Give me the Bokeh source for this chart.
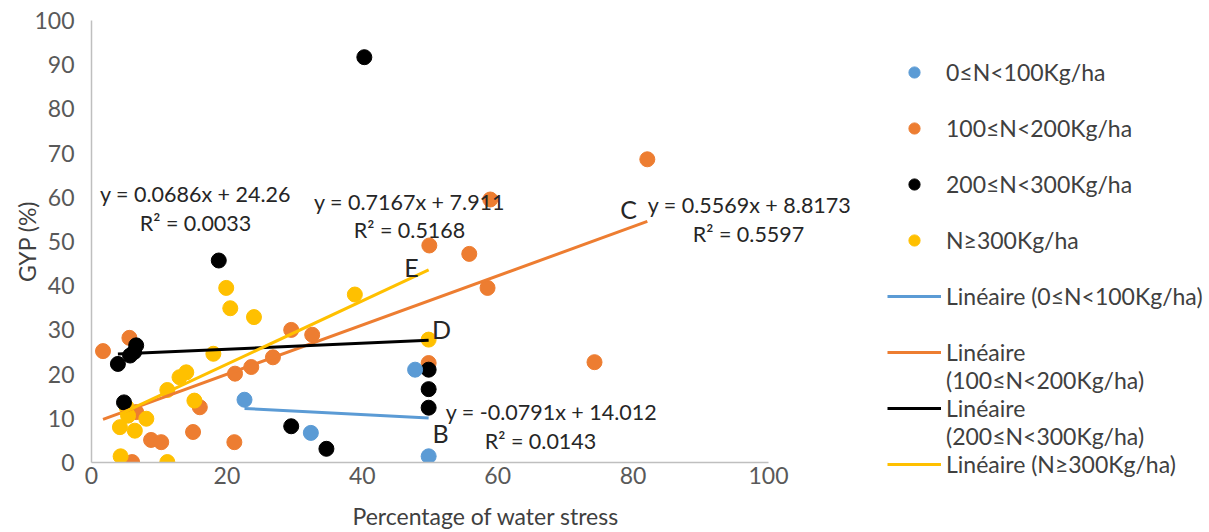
from bokeh.plotting import figure
from bokeh.models import (Legend, LegendItem, Label, FixedTicker, Range1d,
                          CDSView, IndexFilter)
from bokeh.embed import file_html
from bokeh.resources import INLINE

FONT = "Lato"

# ---- data ----
blue_x = [22.6, 32.4, 47.8, 49.8]
blue_y = [14.2, 6.7, 21.0, 1.4]

orange_x = [1.7, 5.6, 6.6, 16.0, 15.0, 8.8, 10.3, 6.0, 21.1, 21.2, 23.6, 26.8,
            29.5, 32.6, 49.8, 49.9, 55.8, 58.9, 58.5, 74.3, 82.1]
orange_y = [25.2, 28.2, 11.4, 12.5, 6.9, 5.1, 4.6, 0.1, 4.6, 20.1, 21.6, 23.8,
            30.0, 28.9, 22.5, 49.1, 47.2, 59.5, 39.5, 22.7, 68.6]

black_x = [3.9, 5.7, 6.3, 6.6, 4.8, 18.8, 29.5, 34.7, 40.3, 49.8, 49.8, 49.8]
black_y = [22.3, 24.2, 25.0, 26.5, 13.6, 45.7, 8.2, 3.1, 91.7, 21.0, 16.6, 12.4]

yellow_x = [19.9, 20.5, 24.0, 18.0, 14.0, 13.0, 11.2, 15.2, 8.1, 5.2, 5.4, 4.2,
            6.4, 4.3, 11.2, 38.9, 49.8]
yellow_y = [39.5, 34.9, 32.9, 24.6, 20.4, 19.3, 16.4, 14.0, 9.9, 12.5, 10.6, 8.0,
            7.2, 1.4, 0.1, 38.0, 27.8]

series_names = ["0≤N<100Kg/ha", "100≤N<200Kg/ha", "200≤N<300Kg/ha", "N≥300Kg/ha"]
colors = ["#5B9BD5", "#ED7D31", "#000000", "#FFC000"]

# trend-line coefficients (from the chart's equations) and x extents
slopes = [-0.0791, 0.5569, 0.0686, 0.7167]
intercepts = [14.012, 8.8173, 24.26, 7.911]
fit_x0 = [22.6, 1.7, 3.9, 4.2]
fit_x1 = [49.8, 82.1, 49.8, 49.8]

x_ticks = [0, 20, 40, 60, 80, 100]
y_ticks = [0, 10, 20, 30, 40, 50, 60, 70, 80, 90, 100]

H = 532
RIGHT_EDGE = 880
LEFT, TOP, BOTTOM = 91, 20, 70
FRAME_W = RIGHT_EDGE - LEFT
FRAME_H = H - TOP - BOTTOM
px_per_x = 677.0 / 100.0
px_per_y = FRAME_H / 100.0

p = figure(frame_width=FRAME_W, frame_height=FRAME_H,
           output_backend="svg", toolbar_location=None,
           x_range=Range1d(0, FRAME_W / px_per_x), y_range=Range1d(0, 100),
           min_border_left=LEFT, min_border_right=0, min_border_top=TOP,
           min_border_bottom=BOTTOM)
p.outline_line_color = None
p.xgrid.grid_line_color = None
p.ygrid.grid_line_color = None
p.border_fill_color = "white"

for ax in (p.xaxis[0], p.yaxis[0]):
    ax.axis_line_color = "#BFBFBF"
    ax.axis_line_width = 1.5
    ax.major_tick_line_color = None
    ax.minor_tick_line_color = None
    ax.major_tick_out = 0
    ax.major_tick_in = 0
    ax.major_label_text_font = FONT
    ax.major_label_text_font_size = "23px"
    ax.major_label_text_color = "#595959"
    ax.axis_label_text_font = FONT
    ax.axis_label_text_font_size = "23px"
    ax.axis_label_text_font_style = "normal"
    ax.axis_label_text_color = "#404040"
    ax.bounds = (0, 100)

p.xaxis[0].ticker = FixedTicker(ticks=x_ticks)
p.yaxis[0].ticker = FixedTicker(ticks=y_ticks)
p.xaxis[0].axis_label = "Percentage of water stress"
p.yaxis[0].axis_label = "GYP (%)"
p.xaxis[0].major_label_standoff = 4
p.xaxis[0].axis_label_standoff = 15
p.yaxis[0].major_label_standoff = 17
p.yaxis[0].axis_label_standoff = -10

xs_all = [blue_x, orange_x, black_x, yellow_x]
ys_all = [blue_y, orange_y, black_y, yellow_y]

pts = {}
for i in [1, 3, 2, 0]:
    pts[i] = p.scatter(xs_all[i], ys_all[i], size=15, fill_color=colors[i],
                       line_color=colors[i], marker="circle")

lines = []
for i in range(4):
    xx = [fit_x0[i], fit_x1[i]]
    yy = [slopes[i] * v + intercepts[i] for v in xx]
    lines.append(p.line(xx, yy, line_color=colors[i], line_width=3))

# renderer that draws nothing: used for legend rows that only carry text
blank = p.line([fit_x0[0], fit_x1[0]], [0, 0], line_alpha=0,
               view=CDSView(filter=IndexFilter(indices=[])))


def dx(px):
    return (px - LEFT) / px_per_x


def dy(py):
    return (H - BOTTOM - py) / px_per_y


eq_labels = [
    ("y = 0.0686x + 24.26", 195, 193, "21.5px"),
    ("R² = 0.0033", 195, 222, "21.5px"),
    ("y = 0.7167x + 7.911", 409, 201, "21.5px"),
    ("R² = 0.5168", 409, 229, "21.5px"),
    ("y = 0.5569x + 8.8173", 749, 204, "21.5px"),
    ("R² = 0.5597", 748, 233, "21.5px"),
    ("y = -0.0791x + 14.012", 551, 411, "21.5px"),
    ("R² = 0.0143", 540, 440, "21.5px"),
    ("C", 628, 208, "25px"),
    ("E", 411, 266, "25px"),
    ("D", 441, 328, "25px"),
    ("B", 440, 432, "25px"),
]
for txt, px, py, fs in eq_labels:
    p.add_layout(Label(x=dx(px), y=dy(py), text=txt, text_font=FONT,
                       text_font_size=fs, text_color="#262626",
                       text_align="center", text_baseline="middle"))

items = [
    LegendItem(label=series_names[0], renderers=[pts[0]]),
    LegendItem(label=" ", renderers=[blank]),
    LegendItem(label=series_names[1], renderers=[pts[1]]),
    LegendItem(label=" ", renderers=[blank]),
    LegendItem(label=series_names[2], renderers=[pts[2]]),
    LegendItem(label=" ", renderers=[blank]),
    LegendItem(label=series_names[3], renderers=[pts[3]]),
    LegendItem(label=" ", renderers=[blank]),
    LegendItem(label="Linéaire (" + series_names[0] + ")", renderers=[lines[0]]),
    LegendItem(label=" ", renderers=[blank]),
    LegendItem(label="Linéaire", renderers=[lines[1]]),
    LegendItem(label="(" + series_names[1] + ")", renderers=[blank]),
    LegendItem(label="Linéaire", renderers=[lines[2]]),
    LegendItem(label="(" + series_names[2] + ")", renderers=[blank]),
    LegendItem(label="Linéaire (" + series_names[3] + ")", renderers=[lines[3]]),
]
ROW_H = 28
n_rows = len(items)
legend_bottom = 72 - ROW_H // 2 + n_rows * ROW_H
legend = Legend(items=items, location=(887 - RIGHT_EDGE, (H - BOTTOM) - legend_bottom),
                orientation="vertical",
                glyph_width=54, glyph_height=ROW_H, label_height=ROW_H, label_standoff=5,
                spacing=0, padding=0, margin=0, border_line_color=None,
                background_fill_alpha=0, label_text_font=FONT,
                label_text_font_size="23px", label_text_color="#404040")
p.add_layout(legend, "right")

open("out.html", "w").write(file_html(p, INLINE))
